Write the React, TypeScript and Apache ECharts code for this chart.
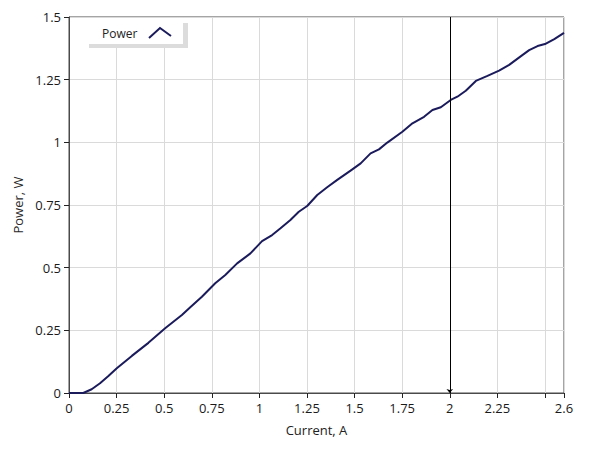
import React, { useEffect, useRef } from "react";
import * as echarts from "echarts";

const current = [0, 0.075, 0.119, 0.163, 0.207, 0.251, 0.33, 0.417, 0.505, 0.593, 0.637, 0.698, 0.768, 0.821, 0.883, 0.953, 1.014, 1.067, 1.111, 1.163, 1.207, 1.251, 1.304, 1.356, 1.409, 1.479, 1.532, 1.584, 1.628, 1.672, 1.751, 1.804, 1.865, 1.909, 1.953, 2.005, 2.04, 2.084, 2.137, 2.198, 2.259, 2.312, 2.374, 2.417, 2.461, 2.5, 2.549, 2.6];
const power = [0, 0, 0.015, 0.039, 0.068, 0.099, 0.148, 0.2, 0.258, 0.311, 0.342, 0.384, 0.438, 0.471, 0.517, 0.557, 0.606, 0.63, 0.657, 0.69, 0.723, 0.746, 0.79, 0.821, 0.85, 0.887, 0.916, 0.956, 0.972, 0.999, 1.042, 1.076, 1.102, 1.129, 1.14, 1.169, 1.182, 1.206, 1.245, 1.265, 1.286, 1.309, 1.344, 1.368, 1.384, 1.392, 1.412, 1.437];
const cursorX = 2;
const seriesName = "Power";
const xName = "Current, A";
const yName = "Power, W";

const FONT = "'Open Sans', 'Noto Sans', sans-serif";
const LINE = "#1b1b5c";

export default function App() {
  const ref = useRef<HTMLDivElement>(null);
  useEffect(() => {
    if (!ref.current) return;
    const chart = echarts.init(ref.current, undefined, { renderer: "svg" });
    const data = current.map((c, i) => [c, power[i]]);
    chart.setOption({
      animation: false,
      backgroundColor: "#fff",
      textStyle: { fontFamily: FONT },
      grid: { left: 69, right: 25, top: 17, bottom: 63, show: true, borderColor: "#4a4a4a", borderWidth: 1, backgroundColor: "transparent" },
      xAxis: {
        type: "value",
        min: 0,
        max: 2.6,
        interval: 0.25,
        name: xName,
        nameLocation: "middle",
        nameGap: 30,
        nameTextStyle: { fontFamily: FONT, fontSize: 13, color: "#222" },
        axisLine: { show: true, lineStyle: { color: "#4a4a4a" } },
        axisTick: { show: true, length: 5, lineStyle: { color: "#222" } },
        axisLabel: {
          fontFamily: FONT, fontSize: 13, color: "#1a1a1a", margin: 8,
          showMaxLabel: true,
          formatter: (v: number) => (Math.abs(v - 2.5) < 1e-9 ? "" : String(+v.toFixed(2))),
        },
        splitLine: { show: true, lineStyle: { color: "#dadada" } },
      },
      yAxis: {
        type: "value",
        min: 0,
        max: 1.5,
        interval: 0.25,
        name: yName,
        nameLocation: "middle",
        nameGap: 44,
        nameTextStyle: { fontFamily: FONT, fontSize: 13, color: "#2a2a2a" },
        axisLine: { show: true, lineStyle: { color: "#4a4a4a" } },
        axisTick: { show: true, length: 5, lineStyle: { color: "#222" } },
        axisLabel: { fontFamily: FONT, fontSize: 13, color: "#1a1a1a", margin: 8 },
        splitLine: { show: true, lineStyle: { color: "#dadada" } },
      },
      series: [
        {
          name: seriesName,
          type: "line",
          data,
          showSymbol: false,
          symbol: "none",
          lineStyle: { color: LINE, width: 2 },
          z: 3,
          markLine: {
            silent: true,
            symbol: ["arrow", "none"],
            symbolSize: [5, 4],
            label: { show: false },
            lineStyle: { color: "#000", width: 1, type: "solid" },
            data: [{ xAxis: cursorX }],
          },
        },
      ],
      graphic: [
        { type: "rect", z: 50, shape: { x: 89, y: 23, width: 99, height: 25 }, style: { fill: "#dcdcdc" } },
        { type: "rect", z: 51, shape: { x: 70, y: 18, width: 113, height: 26 }, style: { fill: "#fff" } },
        { type: "text", z: 52, x: 102, y: 33, style: { text: seriesName, font: `12px ${FONT}`, fill: "#222", verticalAlign: "middle" } },
        { type: "polyline", z: 52, shape: { points: [[149, 38], [160, 28], [171, 36]] }, style: { stroke: LINE, lineWidth: 2, fill: "none" } },
      ],
    });
    return () => chart.dispose();
  }, []);
  return <div ref={ref} style={{ width: 589, height: 456, position: "absolute", left: 0, top: 0 }} />;
}
